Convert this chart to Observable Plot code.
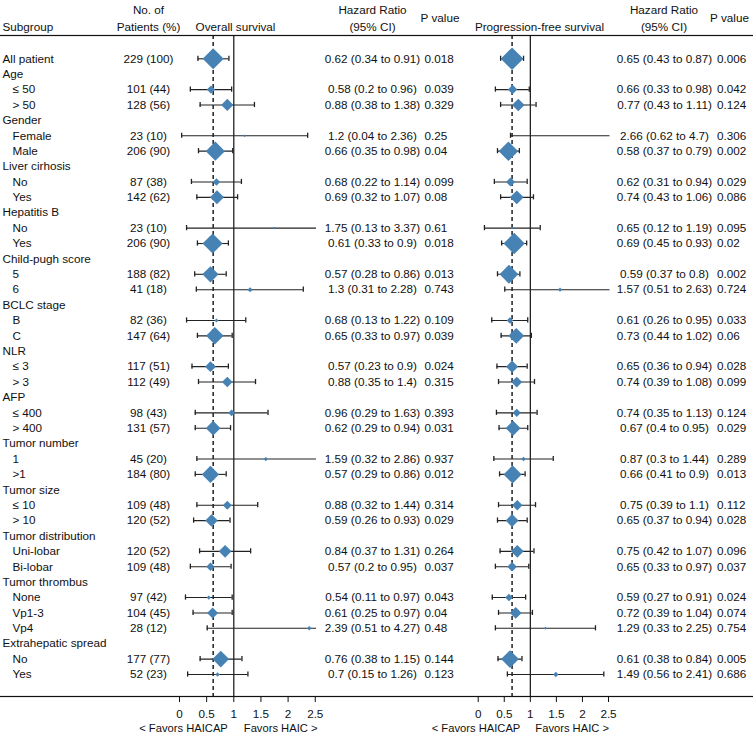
<!DOCTYPE html>
<html><head><meta charset="utf-8">
<script src="https://cdn.jsdelivr.net/npm/d3@7"></script>
<script src="https://cdn.jsdelivr.net/npm/@observablehq/plot@0.6"></script>
<style>
html,body{margin:0;padding:0;background:#fff;}
#chart{position:relative;width:753px;height:736px;overflow:hidden;background:#fff;}
#chart svg{position:absolute;left:0;top:0;}
</style></head><body><div id="chart"></div><script>
// ---------------- data ----------------
const subgroups = ["All patient","Age","≤ 50","> 50","Gender","Female","Male","Liver cirhosis","No","Yes","Hepatitis B","No","Yes","Child-pugh score","5","6","BCLC stage","B","C","NLR","≤ 3","> 3","AFP","≤ 400","> 400","Tumor number","1",">1","Tumor size","≤ 10","> 10","Tumor distribution","Uni-lobar","Bi-lobar","Tumor thrombus","None","Vp1-3","Vp4","Extrahepatic spread","No","Yes"];
const patients = ["229 (100)",null,"101 (44)","128 (56)",null,"23 (10)","206 (90)",null,"87 (38)","142 (62)",null,"23 (10)","206 (90)",null,"188 (82)","41 (18)",null,"82 (36)","147 (64)",null,"117 (51)","112 (49)",null,"98 (43)","131 (57)",null,"45 (20)","184 (80)",null,"109 (48)","120 (52)",null,"120 (52)","109 (48)",null,"97 (42)","104 (45)","28 (12)",null,"177 (77)","52 (23)"];

const osHR = [0.62,null,0.58,0.88,null,1.2,0.66,null,0.68,0.69,null,1.75,0.61,null,0.57,1.3,null,0.68,0.65,null,0.57,0.88,null,0.96,0.62,null,1.59,0.57,null,0.88,0.59,null,0.84,0.57,null,0.54,0.61,2.39,null,0.76,0.7];
const osLo = [0.34,null,0.2,0.38,null,0.04,0.35,null,0.22,0.32,null,0.13,0.33,null,0.28,0.31,null,0.13,0.33,null,0.23,0.35,null,0.29,0.29,null,0.32,0.29,null,0.32,0.26,null,0.37,0.2,null,0.11,0.25,0.51,null,0.38,0.15];
const osHi = [0.91,null,0.96,1.38,null,2.36,0.98,null,1.14,1.07,null,3.37,0.9,null,0.86,2.28,null,1.22,0.97,null,0.9,1.4,null,1.63,0.94,null,2.86,0.86,null,1.44,0.93,null,1.31,0.95,null,0.97,0.97,4.27,null,1.15,1.26];
const osP = ["0.018",null,"0.039","0.329",null,"0.25","0.04",null,"0.099","0.08",null,"0.61","0.018",null,"0.013","0.743",null,"0.109","0.039",null,"0.024","0.315",null,"0.393","0.031",null,"0.937","0.012",null,"0.314","0.029",null,"0.264","0.037",null,"0.043","0.04","0.48",null,"0.144","0.123"];

const pfsHR = [0.65,null,0.66,0.77,null,2.66,0.58,null,0.62,0.74,null,0.65,0.69,null,0.59,1.57,null,0.61,0.73,null,0.65,0.74,null,0.74,0.67,null,0.87,0.66,null,0.75,0.65,null,0.75,0.65,null,0.59,0.72,1.29,null,0.61,1.49];
const pfsLo = [0.43,null,0.33,0.43,null,0.62,0.37,null,0.31,0.43,null,0.12,0.45,null,0.37,0.51,null,0.26,0.44,null,0.36,0.39,null,0.35,0.4,null,0.3,0.41,null,0.39,0.37,null,0.42,0.33,null,0.27,0.39,0.33,null,0.38,0.56];
const pfsHi = [0.87,null,0.98,1.11,null,4.7,0.79,null,0.94,1.06,null,1.19,0.93,null,0.8,2.63,null,0.95,1.02,null,0.94,1.08,null,1.13,0.95,null,1.44,0.9,null,1.1,0.94,null,1.07,0.97,null,0.91,1.04,2.25,null,0.84,2.41];
const pfsP = ["0.006",null,"0.042","0.124",null,"0.306","0.002",null,"0.029","0.086",null,"0.095","0.02",null,"0.002","0.724",null,"0.033","0.06",null,"0.028","0.099",null,"0.124","0.029",null,"0.289","0.013",null,"0.112","0.028",null,"0.096","0.037",null,"0.024","0.074","0.754",null,"0.005","0.686"];

const osOverall = 0.62;
const pfsOverall = 0.65;
const xTicks = [0, 0.5, 1, 1.5, 2, 2.5];
const favorLeft = "< Favors HAICAP";
const favorRight = "Favors HAIC >";

// ---------------- layout ----------------
const W = 753, H = 736;
const FONT = '"Liberation Sans", Arial, Helvetica, sans-serif';
const FS = 11.7;
const INK = "#111";
const frameTop = 35, frameBottom = 696;
const yRange = [58.3, 674];
const pxPerRow = (yRange[1] - yRange[0]) / (subgroups.length - 1);
const COL = {label: 2, indent: 12, n: 148, osHR: 372, osP: 424, pfsHR: 664, pfsP: 716.5};
const style = {fontFamily: FONT, fontSize: FS + "px", background: "transparent", color: INK, overflow: "visible"};
const yScale = {domain: [0, subgroups.length - 1], range: yRange, axis: null};

const rows = subgroups.map((label, i) => ({
  i, label,
  isGroup: i > 0 && patients[i] == null,
  n: patients[i],
  osText: osHR[i] == null ? null : `${osHR[i]} (${osLo[i]} to ${osHi[i]})`,
  osP: osP[i],
  pfsText: pfsHR[i] == null ? null : `${pfsHR[i]} (${pfsLo[i]} to ${pfsHi[i]})`,
  pfsP: pfsP[i]
}));

const header = (text, x, y, anchor = "middle") =>
  Plot.text([text], {x: () => x, frameAnchor: "top", dy: y - frameTop, text: d => d, textAnchor: anchor, fill: INK});

const table = Plot.plot({
  width: W, height: H,
  marginLeft: 0, marginRight: 0, marginTop: frameTop, marginBottom: H - frameBottom,
  style,
  x: {domain: [0, W], range: [0, W], axis: null},
  y: yScale,
  marks: [
    Plot.frame({stroke: INK, strokeWidth: 1.2, insetLeft: -4, insetRight: -4}),
    Plot.text(rows, {x: d => (d.isGroup || d.i === 0) ? COL.label : COL.indent, y: "i", text: "label", textAnchor: "start", fill: INK}),
    Plot.text(rows, {x: () => COL.n, y: "i", text: "n", fill: INK}),
    Plot.text(rows, {x: () => COL.osHR, y: "i", text: "osText", fill: INK}),
    Plot.text(rows, {x: () => COL.osP, y: "i", text: "osP", textAnchor: "start", fill: INK}),
    Plot.text(rows, {x: () => COL.pfsHR, y: "i", text: "pfsText", fill: INK}),
    Plot.text(rows, {x: () => COL.pfsP, y: "i", text: "pfsP", textAnchor: "start", fill: INK}),
    header("Subgroup", 2, 21.7, "start"),
    header("No. of", 148, 5.5),
    header("Patients (%)", 148, 21.7),
    header("Overall survival", 235, 21.7),
    header("Hazard Ratio", 372, 5.5),
    header("(95% CI)", 372, 21.7),
    header("P value", 439.5, 13.3),
    header("Progression-free survival", 539, 21.7),
    header("Hazard Ratio", 663.5, 5.5),
    header("(95% CI)", 663.5, 21.7),
    header("P value", 729, 13.3)
  ]
});

const diamond = {
  draw(ctx, size) {
    const r = Math.sqrt(size / Math.PI);
    ctx.moveTo(0, -r); ctx.lineTo(r, 0); ctx.lineTo(0, r); ctx.lineTo(-r, 0); ctx.closePath();
  }
};

function forest({hr, lo, hi, overall, x0, x25, clipRight, hmax, dxL, dxR}) {
  const data = rows.filter(d => hr[d.i] != null).map(d => ({i: d.i, hr: hr[d.i], lo: lo[d.i], hi: hi[d.i]}));
  const lw = data.map(d => Math.log(d.hi / d.lo));
  const minLW = d3.min(lw);
  data.forEach((d, k) => { d.hw = Math.max(1.3, hmax * Math.pow(minLW / lw[k], 2)); });
  const xMax = 2.5 * (clipRight - x0) / (x25 - x0);
  const capH = 2.6 / pxPerRow;
  return Plot.plot({
    width: W, height: H,
    marginTop: frameTop, marginBottom: H - frameBottom,
    marginLeft: x0 - 12, marginRight: W - clipRight,
    style,
    x: {domain: [0, 2.5], range: [x0, x25], ticks: xTicks, tickSize: 6, tickPadding: 7, tickFormat: d => String(d), label: null, fontSize: 11.2},
    y: yScale,
    r: {type: "identity"},
    marks: [
      Plot.ruleX([1], {stroke: INK, strokeWidth: 1.2}),
      Plot.ruleX([overall], {stroke: INK, strokeWidth: 1.4, strokeDasharray: "4,3"}),
      Plot.ruleY(data, {y: "i", x1: "lo", x2: "hi", stroke: "#222", strokeWidth: 1.1, clip: true}),
      Plot.ruleX(data, {x: "lo", y1: d => d.i - capH, y2: d => d.i + capH, stroke: "#222", strokeWidth: 1.3}),
      Plot.ruleX(data.filter(d => d.hi <= xMax), {x: "hi", y1: d => d.i - capH, y2: d => d.i + capH, stroke: "#222", strokeWidth: 1.3}),
      Plot.dot(data, {x: "hr", y: "i", r: "hw", symbol: diamond, fill: "#4682b4", stroke: "none", clip: true}),
      Plot.text([favorLeft], {x: () => 1, frameAnchor: "bottom", dy: 35.5, dx: dxL, text: d => d, textAnchor: "end", fill: INK, fontSize: 11.2}),
      Plot.text([favorRight], {x: () => 1, frameAnchor: "bottom", dy: 35.5, dx: dxR, text: d => d, textAnchor: "start", fill: INK, fontSize: 11.2})
    ]
  });
}

const os = forest({hr: osHR, lo: osLo, hi: osHi, overall: osOverall, x0: 179, x25: 314.75, clipRight: 316, hmax: 10.5, dxL: -6, dxR: 10});
const pfs = forest({hr: pfsHR, lo: pfsLo, hi: pfsHi, overall: pfsOverall, x0: 477.7, x25: 608, clipRight: 609.5, hmax: 11.3, dxL: -10, dxR: 5});

const root = document.getElementById("chart");
root.append(table, os, pfs);
</script></body></html>
